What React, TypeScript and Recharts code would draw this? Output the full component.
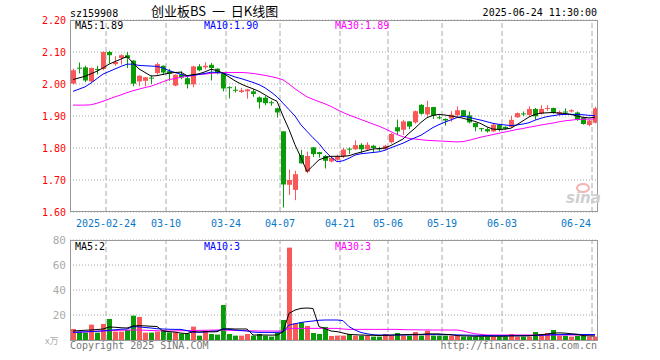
import React from 'react';
import { ComposedChart, Bar, Line, XAxis, YAxis, CartesianGrid, ReferenceLine } from 'recharts';

const dates = [
  '2025-02-14', '2025-02-17', '2025-02-18', '2025-02-19', '2025-02-20', '2025-02-21', '2025-02-24', '2025-02-25', '2025-02-26', '2025-02-27',
  '2025-02-28', '2025-03-03', '2025-03-04', '2025-03-05', '2025-03-06', '2025-03-07', '2025-03-10', '2025-03-11', '2025-03-12', '2025-03-13',
  '2025-03-14', '2025-03-17', '2025-03-18', '2025-03-19', '2025-03-20', '2025-03-21', '2025-03-24', '2025-03-25', '2025-03-26', '2025-03-27',
  '2025-03-28', '2025-03-31', '2025-04-01', '2025-04-02', '2025-04-03', '2025-04-07', '2025-04-08', '2025-04-09', '2025-04-10', '2025-04-11',
  '2025-04-14', '2025-04-15', '2025-04-16', '2025-04-17', '2025-04-18', '2025-04-21', '2025-04-22', '2025-04-23', '2025-04-24', '2025-04-25',
  '2025-04-28', '2025-04-29', '2025-04-30', '2025-05-06', '2025-05-07', '2025-05-08', '2025-05-09', '2025-05-12', '2025-05-13', '2025-05-14',
  '2025-05-15', '2025-05-16', '2025-05-19', '2025-05-20', '2025-05-21', '2025-05-22', '2025-05-23', '2025-05-26', '2025-05-27', '2025-05-28',
  '2025-05-29', '2025-05-30', '2025-06-03', '2025-06-04', '2025-06-05', '2025-06-06', '2025-06-09', '2025-06-10', '2025-06-11', '2025-06-12',
  '2025-06-13', '2025-06-16', '2025-06-17', '2025-06-18', '2025-06-19', '2025-06-20', '2025-06-23', '2025-06-24',
];

const opens = [
  2.001, 2.051, 2.052, 2.008, 2.047, 2.047, 2.100, 2.062, 2.081, 2.090,
  2.073, 2.008, 2.010, 2.020, 2.034, 2.057, 2.040, 1.995, 2.030, 2.018,
  1.999, 2.055, 2.052, 2.060, 2.048, 2.033, 1.990, 1.982, 1.975, 1.977,
  1.977, 1.958, 1.957, 1.943, 1.924, 1.852, 1.685, 1.669, 1.778, 1.726,
  1.802, 1.787, 1.775, 1.758, 1.763, 1.774, 1.798, 1.796, 1.810, 1.796,
  1.807, 1.799, 1.796, 1.818, 1.865, 1.857, 1.883, 1.880, 1.935, 1.905,
  1.928, 1.896, 1.891, 1.892, 1.902, 1.918, 1.902, 1.878, 1.862, 1.859,
  1.852, 1.873, 1.866, 1.866, 1.896, 1.908, 1.903, 1.922, 1.907, 1.923,
  1.925, 1.905, 1.914, 1.914, 1.911, 1.895, 1.872, 1.879,
];
const highs = [
  2.048, 2.067, 2.057, 2.052, 2.057, 2.102, 2.104, 2.087, 2.093, 2.100,
  2.075, 2.027, 2.022, 2.027, 2.067, 2.058, 2.047, 2.030, 2.040, 2.023,
  2.057, 2.062, 2.068, 2.066, 2.049, 2.034, 1.993, 1.993, 1.988, 1.985,
  1.984, 1.961, 1.962, 1.948, 1.926, 1.853, 1.733, 1.729, 1.794, 1.789,
  1.803, 1.788, 1.778, 1.772, 1.779, 1.800, 1.802, 1.824, 1.815, 1.818,
  1.810, 1.804, 1.810, 1.847, 1.889, 1.888, 1.884, 1.917, 1.937, 1.948,
  1.929, 1.902, 1.892, 1.915, 1.930, 1.919, 1.914, 1.879, 1.863, 1.864,
  1.878, 1.874, 1.868, 1.900, 1.911, 1.914, 1.930, 1.925, 1.934, 1.934,
  1.926, 1.917, 1.924, 1.921, 1.914, 1.896, 1.888, 1.929,
];
const lows = [
  1.999, 2.033, 2.006, 2.005, 2.030, 2.043, 2.065, 2.057, 2.060, 2.050,
  1.993, 1.993, 1.993, 2.000, 2.029, 2.029, 2.010, 1.993, 2.015, 1.986,
  1.990, 2.040, 2.045, 2.011, 2.030, 1.977, 1.955, 1.973, 1.972, 1.954,
  1.960, 1.923, 1.934, 1.932, 1.895, 1.614, 1.653, 1.637, 1.751, 1.721,
  1.772, 1.770, 1.736, 1.755, 1.760, 1.769, 1.781, 1.794, 1.785, 1.793,
  1.785, 1.791, 1.794, 1.814, 1.840, 1.841, 1.859, 1.876, 1.904, 1.898,
  1.891, 1.890, 1.870, 1.882, 1.899, 1.897, 1.877, 1.852, 1.851, 1.848,
  1.850, 1.852, 1.857, 1.863, 1.894, 1.900, 1.900, 1.889, 1.905, 1.916,
  1.907, 1.901, 1.906, 1.911, 1.885, 1.873, 1.868, 1.877,
];
const closes = [
  2.043, 2.049, 2.011, 2.050, 2.045, 2.100, 2.090, 2.069, 2.090, 2.081,
  2.001, 2.026, 2.021, 2.018, 2.062, 2.036, 2.032, 2.029, 2.020, 1.999,
  2.055, 2.043, 2.057, 2.050, 2.034, 1.986, 1.988, 1.980, 1.980, 1.983,
  1.969, 1.943, 1.940, 1.941, 1.911, 1.686, 1.700, 1.718, 1.752, 1.775,
  1.781, 1.781, 1.760, 1.769, 1.774, 1.795, 1.796, 1.809, 1.796, 1.810,
  1.800, 1.796, 1.807, 1.844, 1.852, 1.883, 1.867, 1.915, 1.907, 1.928,
  1.901, 1.894, 1.886, 1.904, 1.918, 1.900, 1.880, 1.865, 1.859, 1.852,
  1.873, 1.859, 1.860, 1.888, 1.909, 1.906, 1.922, 1.899, 1.922, 1.925,
  1.910, 1.912, 1.911, 1.918, 1.888, 1.875, 1.886, 1.924,
];

const ma5 = [
  2.014, 2.019, 2.024, 2.032, 2.040, 2.050, 2.062, 2.070, 2.078, 2.086,
  2.066, 2.047, 2.036, 2.025, 2.026, 2.030, 2.034, 2.036, 2.037, 2.026,
  2.029, 2.032, 2.038, 2.046, 2.042, 2.034, 2.022, 2.010, 2.000, 1.992,
  1.985, 1.977, 1.966, 1.955, 1.946, 1.900, 1.858, 1.810, 1.770, 1.726,
  1.745, 1.763, 1.770, 1.774, 1.774, 1.774, 1.776, 1.782, 1.787, 1.792,
  1.797, 1.798, 1.800, 1.808, 1.818, 1.828, 1.846, 1.862, 1.880, 1.895,
  1.902, 1.905, 1.903, 1.900, 1.897, 1.893, 1.888, 1.883, 1.876, 1.866,
  1.859, 1.858, 1.859, 1.862, 1.873, 1.885, 1.897, 1.905, 1.909, 1.910,
  1.911, 1.909, 1.908, 1.905, 1.900, 1.896, 1.894, 1.896,
];
const ma10 = [
  1.977, 1.984, 1.991, 2.003, 2.017, 2.031, 2.039, 2.047, 2.055, 2.062,
  2.062, 2.058, 2.057, 2.056, 2.055, 2.050, 2.042, 2.036, 2.030, 2.025,
  2.027, 2.030, 2.033, 2.037, 2.036, 2.034, 2.029, 2.022, 2.017, 2.011,
  2.005, 1.998, 1.988, 1.975, 1.960, 1.940, 1.920, 1.900, 1.872, 1.852,
  1.832, 1.814, 1.790, 1.772, 1.757, 1.760, 1.768, 1.778, 1.782, 1.784,
  1.786, 1.788, 1.793, 1.801, 1.808, 1.815, 1.824, 1.832, 1.840, 1.852,
  1.864, 1.873, 1.881, 1.888, 1.895, 1.899, 1.896, 1.891, 1.887, 1.882,
  1.877, 1.874, 1.872, 1.870, 1.872, 1.875, 1.879, 1.887, 1.893, 1.898,
  1.901, 1.904, 1.905, 1.905, 1.905, 1.904, 1.902, 1.901,
];
const ma30 = [
  1.934, 1.934, 1.934, 1.935, 1.940, 1.946, 1.953, 1.960, 1.966, 1.973,
  1.979, 1.984, 1.989, 1.993, 2.000, 2.007, 2.014, 2.017, 2.021, 2.024,
  2.027, 2.030, 2.031, 2.033, 2.035, 2.036, 2.036, 2.036, 2.036, 2.035,
  2.033, 2.030, 2.027, 2.023, 2.019, 2.013, 2.000, 1.985, 1.972, 1.960,
  1.952, 1.945, 1.938, 1.930, 1.920, 1.911, 1.903, 1.896, 1.889, 1.882,
  1.875, 1.868, 1.860, 1.851, 1.842, 1.835, 1.830, 1.828, 1.826, 1.824,
  1.823, 1.822, 1.821, 1.820, 1.819, 1.820, 1.824, 1.829, 1.834, 1.838,
  1.842, 1.846, 1.850, 1.854, 1.858, 1.861, 1.865, 1.868, 1.872, 1.875,
  1.878, 1.882, 1.885, 1.887, 1.889, 1.890, 1.890, 1.891,
];

// volume, 万
const volumes = [
  8.8, 6.7, 5.9, 12.3, 5.9, 12.8, 16.8, 6.7, 6.7, 8.0,
  19.5, 18.4, 5.9, 5.9, 6.7, 8.0, 6.1, 6.1, 5.1, 5.3,
  10.7, 3.5, 7.5, 4.8, 4.3, 28.0, 4.8, 3.5, 3.5, 4.8,
  3.5, 4.8, 3.5, 2.7, 5.9, 16.0, 73.9, 13.3, 14.1, 11.2,
  5.6, 4.8, 10.4, 3.2, 3.5, 3.5, 4.8, 3.5, 3.5, 3.5,
  2.7, 2.7, 4.8, 3.5, 5.6, 3.5, 3.5, 6.4, 3.5, 7.5,
  3.5, 3.5, 3.5, 3.5, 3.5, 2.7, 2.7, 2.7, 2.7, 2.7,
  2.7, 2.7, 2.7, 4.8, 2.7, 2.7, 2.7, 6.4, 4.8, 5.6,
  8.0, 3.5, 3.5, 2.7, 3.5, 3.5, 2.7, 2.7,
];
const volMa5 = [
  7.2, 7.5, 7.8, 8.0, 8.4, 8.8, 10.4, 10.2, 9.8, 9.6,
  11.2, 11.5, 11.3, 11.0, 10.8, 7.2, 6.7, 6.3, 5.5, 5.1,
  6.7, 6.4, 6.7, 6.5, 6.6, 8.8, 9.0, 8.8, 8.8, 8.8,
  4.0, 4.0, 4.0, 3.9, 4.0, 6.5, 21.3, 24.0, 25.3, 25.6,
  25.2, 10.7, 9.2, 7.2, 6.7, 5.6, 4.5, 4.2, 4.0, 3.8,
  3.8, 3.6, 3.8, 3.8, 4.2, 4.2, 4.4, 4.5, 4.5, 4.9,
  4.9, 4.9, 4.5, 4.3, 3.5, 3.3, 3.2, 3.0, 3.0, 3.0,
  3.0, 3.0, 3.0, 3.3, 3.3, 3.3, 3.3, 3.9, 4.2, 4.7,
  5.5, 5.7, 5.5, 5.0, 4.6, 3.5, 3.3, 3.2,
];
const volMa10 = [
  6.1, 6.3, 6.5, 6.8, 7.0, 7.3, 7.8, 8.2, 8.6, 8.8,
  10.7, 10.5, 10.0, 9.6, 9.0, 8.8, 8.6, 8.5, 8.5, 7.5,
  6.3, 6.2, 6.4, 7.0, 7.2, 8.8, 8.5, 8.0, 7.6, 7.2,
  6.3, 6.1, 6.1, 6.1, 6.1, 6.4, 12.0, 13.0, 14.0, 14.7,
  15.2, 15.8, 16.0, 16.0, 16.0, 15.5, 10.7, 8.0, 6.0, 5.0,
  4.2, 4.0, 4.0, 4.0, 4.0, 4.0, 4.1, 4.2, 4.3, 4.3,
  4.3, 4.3, 4.3, 4.2, 4.1, 4.0, 3.9, 3.8, 3.7, 3.6,
  3.5, 3.5, 3.5, 3.5, 3.5, 3.5, 3.6, 3.7, 3.8, 4.0,
  4.2, 4.3, 4.4, 4.5, 4.5, 4.4, 4.4, 4.4,
];
const volMa30 = [
  6.1, 6.3, 6.5, 6.7, 7.0, 7.2, 7.4, 7.6, 7.8, 7.9,
  8.0, 8.0, 7.8, 7.6, 7.4, 7.3, 7.2, 7.3, 7.4, 7.5,
  7.6, 7.7, 7.8, 7.9, 8.0, 8.0, 7.8, 7.6, 7.5, 7.4,
  7.3, 7.2, 7.2, 7.2, 7.2, 7.2, 9.3, 9.3, 9.3, 9.3,
  9.3, 9.3, 9.3, 9.3, 9.3, 8.8, 8.5, 8.5, 8.5, 8.5,
  8.5, 8.5, 8.5, 8.5, 8.5, 8.3, 8.2, 8.2, 8.1, 8.1,
  8.0, 8.0, 8.0, 8.0, 8.0, 7.2, 6.0, 5.0, 4.5, 4.0,
  4.0, 4.0, 4.0, 4.0, 4.0, 4.0, 4.0, 4.0, 4.0, 4.0,
  4.0, 4.0, 4.0, 4.0, 4.0, 4.0, 4.0, 4.0,
];

const dateTicks = ['2025-02-24', '2025-03-10', '2025-03-24', '2025-04-07', '2025-04-21', '2025-05-06', '2025-05-19', '2025-06-03', '2025-06-24'];
const dateTickLabels = ['2025-02-24', '03-10', '03-24', '04-07', '04-21', '05-06', '05-19', '06-03', '06-24'];
const priceTicks = [1.6, 1.7, 1.8, 1.9, 2.0, 2.1, 2.2];
const volTicks = [20, 40, 60, 80];

const RED = '#fa5858';
const GREEN = '#089c08';
const MONO = '"DejaVu Sans Mono", "Liberation Mono", monospace';
const CJK = '"Noto Sans CJK SC", sans-serif';

const data = dates.map((d, i) => ({
  date: d,
  range: [lows[i], highs[i]],
  open: opens[i],
  high: highs[i],
  low: lows[i],
  close: closes[i],
  ma5: ma5[i],
  ma10: ma10[i],
  ma30: ma30[i],
  vol: volumes[i],
  vma5: volMa5[i],
  vma10: volMa10[i],
  vma30: volMa30[i],
}));

const Candle = (props: any) => {
  const { x, y, height, payload } = props;
  const { open, close, high, low } = payload;
  const color = close >= open ? RED : GREEN;
  const ratio = height / (high - low);
  const bx = Math.floor(x);
  const cx = bx + 2.5;
  const top = y + (high - Math.max(open, close)) * ratio;
  const bh = Math.max(1, Math.abs(open - close) * ratio);
  return (
    <g>
      <line x1={cx} x2={cx} y1={y} y2={y + height} stroke={color} strokeWidth={1} />
      <rect x={bx} y={top} width={5} height={bh} fill={color} />
    </g>
  );
};

const VolBar = (props: any) => {
  const { x, y, height, payload } = props;
  const color = payload.close >= payload.open ? RED : GREEN;
  return <rect x={Math.floor(x)} y={y} width={5} height={height} fill={color} />;
};

const DateTick = (props: any) => {
  const { x, y, payload } = props;
  const i = dateTicks.indexOf(payload.value);
  const last = i === dateTicks.length - 1;
  return (
    <text x={x - 3 + (last ? -1 : 0)} y={y + 13} textAnchor={last ? 'end' : 'middle'} fill="#0a78c8" fontSize={10} fontFamily={MONO}>
      {dateTickLabels[i]}
    </text>
  );
};

const vlines = dateTicks.map((d) => (
  <ReferenceLine key={d} x={d} position="start" stroke="#aaa" strokeDasharray="5 3" />
));

export default function App() {
  return (
    <div style={{ position: 'absolute', left: 0, top: 0, width: 660, height: 360, background: '#fff' }}>
      <div style={{ position: 'absolute', left: 0, top: 0 }}>
        <ComposedChart width={660} height={230} data={data} margin={{ top: 20, right: 62, bottom: 0, left: 0 }}>
          <CartesianGrid vertical={false} stroke="#aaa" strokeDasharray="1 2" />
          <XAxis dataKey="date" ticks={dateTicks} interval={0} axisLine={false} tickLine={false} tickSize={0} height={18} tick={<DateTick />} />
          <YAxis domain={[1.6, 2.2]} ticks={priceTicks} width={70} axisLine={false} tickLine={false} tickSize={2} tickMargin={2}
            tickFormatter={(v: number) => v.toFixed(2)} tick={{ fill: '#ff0000', fontSize: 10, fontFamily: MONO }} allowDataOverflow />
          {vlines}
          <Bar dataKey="range" barSize={5} shape={<Candle />} isAnimationActive={false} />
          <Line dataKey="ma30" stroke="#ff00ff" dot={false} strokeWidth={1} isAnimationActive={false} />
          <Line dataKey="ma10" stroke="#0000ff" dot={false} strokeWidth={1} isAnimationActive={false} />
          <Line dataKey="ma5" stroke="#000" dot={false} strokeWidth={1} isAnimationActive={false} />
        </ComposedChart>
      </div>
      <div style={{ position: 'absolute', left: 0, top: 230 }}>
        <ComposedChart width={660} height={130} data={data} margin={{ top: 10, right: 62, bottom: 20, left: 0 }}>
          <CartesianGrid vertical={false} stroke="#aaa" strokeDasharray="1 2" />
          <XAxis dataKey="date" hide />
          <YAxis domain={[0, 80]} ticks={volTicks} width={70} axisLine={false} tickLine={false} tickSize={2} tickMargin={2}
            tick={{ fill: '#aaa', fontSize: 11, fontFamily: MONO }} allowDataOverflow />
          {vlines}
          <Bar dataKey="vol" barSize={5} shape={<VolBar />} isAnimationActive={false} />
          <Line dataKey="vma30" stroke="#ff00ff" dot={false} strokeWidth={1} isAnimationActive={false} />
          <Line dataKey="vma10" stroke="#0000ff" dot={false} strokeWidth={1} isAnimationActive={false} />
          <Line dataKey="vma5" stroke="#000" dot={false} strokeWidth={1} isAnimationActive={false} />
        </ComposedChart>
      </div>
      <svg width={660} height={360} style={{ position: 'absolute', left: 0, top: 0, pointerEvents: 'none' }}>
        <rect x={70.5} y={20.5} width={527} height={191} fill="none" stroke="#999" />
        <rect x={70.5} y={240.5} width={527} height={100} fill="none" stroke="#999" />
        <text x={70} y={17} fontSize={10} fontFamily={MONO} fill="#000">sz159908</text>
        <text x={151} y={16} fontSize={13} fontFamily={CJK} fill="#000" style={{ whiteSpace: 'pre' }}>创业板BS  一  日K线图</text>
        <text x={597} y={16} textAnchor="end" fontSize={10} fontFamily={MONO} fill="#000">2025-06-24 11:30:00</text>
        <text x={75} y={29} fontSize={10} fontFamily={MONO} fill="#000">MA5:1.89</text>
        <text x={204} y={29} fontSize={10} fontFamily={MONO} fill="#0000ff">MA10:1.90</text>
        <text x={335} y={29} fontSize={10} fontFamily={MONO} fill="#ff00ff">MA30:1.89</text>
        <text x={75} y={250} fontSize={10} fontFamily={MONO} fill="#000">MA5:2</text>
        <text x={204} y={250} fontSize={10} fontFamily={MONO} fill="#0000ff">MA10:3</text>
        <text x={335} y={250} fontSize={10} fontFamily={MONO} fill="#ff00ff">MA30:3</text>
        <text x={45} y={344} fontSize={9} fontFamily={CJK} fill="#aaa">x万</text>
        <text x={70} y={349} fontSize={10} fontFamily={MONO} fill="#777">Copyright 2025 SINA.COM</text>
        <text x={597} y={349} textAnchor="end" fontSize={10} fontFamily={MONO} fill="#777">http://finance.sina.com.cn</text>
        <ellipse cx={583} cy={188} rx={6} ry={4} fill="none" stroke="#f3b4b4" strokeWidth={2} />
        <text x={566} y={203} fontSize={15} fontStyle="italic" fontWeight="bold" fontFamily='"DejaVu Sans", sans-serif' fill="#cfcfcf">sina</text>
      </svg>
    </div>
  );
}
